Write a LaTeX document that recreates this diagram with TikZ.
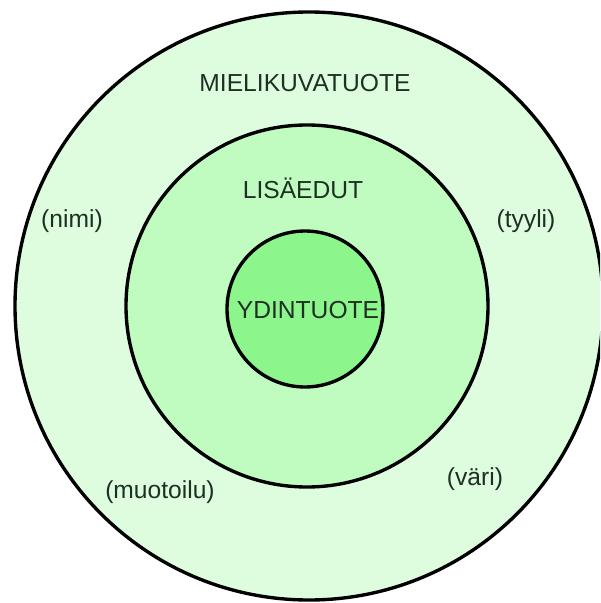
\documentclass[tikz,border=0pt]{standalone}
\usepackage{fontspec}
\setmainfont{Liberation Sans}
\definecolor{outerfill}{RGB}{222,253,222}
\definecolor{midfill}{RGB}{192,252,192}
\definecolor{corefill}{RGB}{140,245,140}
\definecolor{labeltext}{RGB}{30,48,36}

\begin{document}
\begin{tikzpicture}[x=0.025cm, y=-0.025cm,
  ring/.style={draw=black, line width=2.4pt},
  lbl/.style={anchor=base, inner sep=0pt, text=labeltext, font=\fontsize{17.5}{20}\selectfont}]
  \clip (0,0) rectangle (600,603);
  \fill[white] (0,0) rectangle (600,603);
  % rings, outermost first
  \coordinate (c) at (307,306);
  \draw[ring, fill=outerfill] (c) ++(2,0) circle[radius=294];
  \draw[ring, fill=midfill] (c) circle[radius=181];
  \draw[ring, fill=corefill] (c) ++(-2,3) circle[radius=78];
  % labels
  \node[lbl] (image) at (305,92) {MIELIKUVATUOTE};
  \node[lbl] (extra) at (303,199) {LISÄEDUT};
  \node[lbl] (core) at (308,318) {YDINTUOTE};
  \node[lbl] (name) at (72,228) {(nimi)};
  \node[lbl] (style) at (526,228) {(tyyli)};
  \node[lbl] (design) at (160,498) {(muotoilu)};
  \node[lbl] (colour) at (475,485) {(väri)};
\end{tikzpicture}
\end{document}
